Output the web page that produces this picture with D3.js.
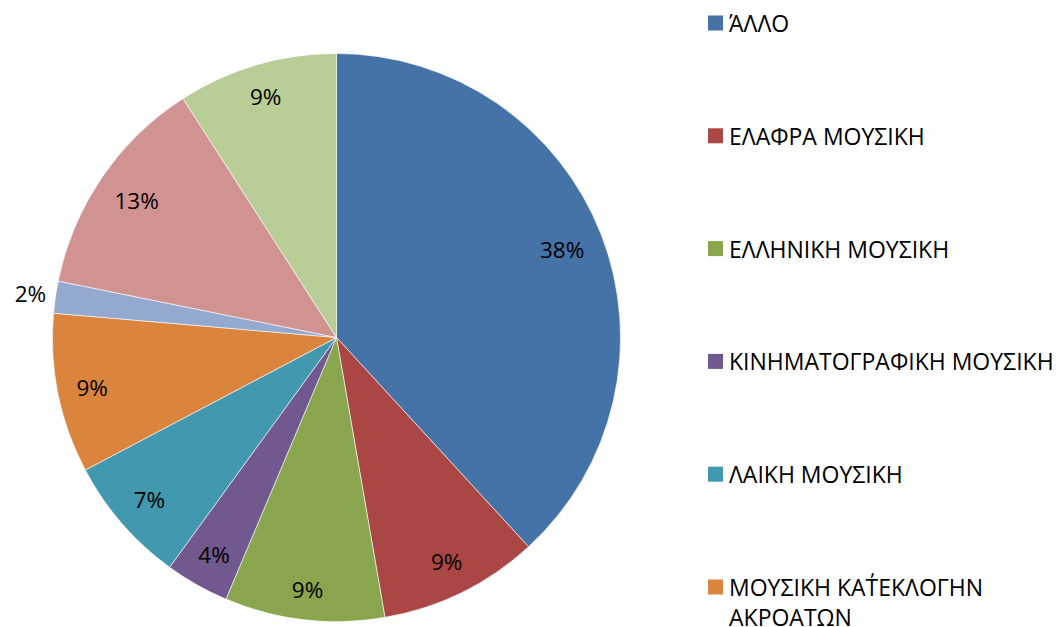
<!DOCTYPE html>
<html>
<head>
<meta charset="utf-8">
<script src="https://cdn.jsdelivr.net/npm/d3@7"></script>
<style>
html,body{margin:0;padding:0;background:#fff;overflow:hidden;}
svg{display:block;}
text{font-family:"Open Sans","Noto Sans",sans-serif;fill:#000;}
</style>
</head>
<body>
<svg id="chart" width="1062" height="627"></svg>
<script>
const categories = [
  "ΆΛΛΟ",
  "ΕΛΑΦΡΑ ΜΟΥΣΙΚΗ",
  "ΕΛΛΗΝΙΚΗ ΜΟΥΣΙΚΗ",
  "ΚΙΝΗΜΑΤΟΓΡΑΦΙΚΗ ΜΟΥΣΙΚΗ",
  "ΛΑΙΚΗ ΜΟΥΣΙΚΗ",
  "ΜΟΥΣΙΚΗ ΚΑΤ΄ΕΚΛΟΓΗΝ ΑΚΡΟΑΤΩΝ",
  "ΠΑΡΑΔΟΣΙΑΚΗ ΜΟΥΣΙΚΗ",
  "ΡΟΚ ΜΟΥΣΙΚΗ",
  "ΣΥΜΦΩΝΙΚΗ ΜΟΥΣΙΚΗ"
];
// counts (shown as percentages)
const values = [21, 5, 5, 2, 4, 5, 1, 7, 5];
const colors = ["#4572A7","#AA4643","#89A54E","#71588F","#4198AF","#DB843D","#93A9CF","#D19392","#B9CD96"];

const svg = d3.select("#chart");
const W = 1062, H = 627;
const cx = 336.5, cy = 337.5, R = 284;
const legendFont = 23, labelFont = 22.5;

const color = d3.scaleOrdinal().domain(categories).range(colors);
const data = categories.map((c, i) => ({name: c, value: values[i]}));
const total = d3.sum(values);

const pie = d3.pie().sort(null).value(d => d.value);
const arcs = pie(data);
const arc = d3.arc().innerRadius(0).outerRadius(R);

const g = svg.append("g").attr("transform", `translate(${cx},${cy})`);
g.selectAll("path.slice").data(arcs).join("path")
  .attr("class", "slice")
  .attr("d", arc)
  .attr("fill", d => color(d.data.name))
  .attr("stroke", "#fff")
  .attr("stroke-width", 0.6);

// percentage labels
const lbl = g.selectAll("text.pct").data(arcs).join("text")
  .attr("class", "pct")
  .attr("font-size", labelFont)
  .attr("text-anchor", "middle")
  .attr("dominant-baseline", "central")
  .text(d => Math.round(d.data.value / total * 100) + "%");

lbl.each(function(d) {
  const bb = this.getBBox();
  const a = (d.startAngle + d.endAngle) / 2;
  const s = Math.sin(a), c = Math.cos(a);
  const ext = bb.width / 2 * Math.abs(s) + bb.height / 2 * Math.abs(c) * 0.75;
  const outside = d.data.value / total < 0.03;
  const dist = outside ? R + 8 + ext : R - 17 - ext;
  d3.select(this).attr("x", dist * s).attr("y", -dist * c);
});

// legend (entries that fall below the picture are not drawn)
const legX = 708, legY0 = 23, legStep = 112.8, box = 15, textX = 729, maxW = 345, lineH = 30;
const leg = svg.append("g");
data.forEach((d, i) => {
  const y = legY0 + i * legStep;
  if (y > H) return;
  leg.append("rect").attr("x", legX).attr("y", y - box / 2).attr("width", box).attr("height", box)
    .attr("fill", color(d.name));
  const t = leg.append("text").attr("x", textX).attr("y", y)
    .attr("font-size", legendFont).attr("dominant-baseline", "central");
  const words = d.name.split(" ");
  let line = [], lineNo = 0;
  let ts = t.append("tspan").attr("x", textX).attr("y", y);
  words.forEach(w => {
    line.push(w);
    ts.text(line.join(" "));
    if (ts.node().getComputedTextLength() > maxW && line.length > 1) {
      line.pop();
      ts.text(line.join(" "));
      line = [w];
      lineNo++;
      ts = t.append("tspan").attr("x", textX).attr("y", y + lineNo * lineH).text(w);
    }
  });
});
</script>
</body>
</html>
